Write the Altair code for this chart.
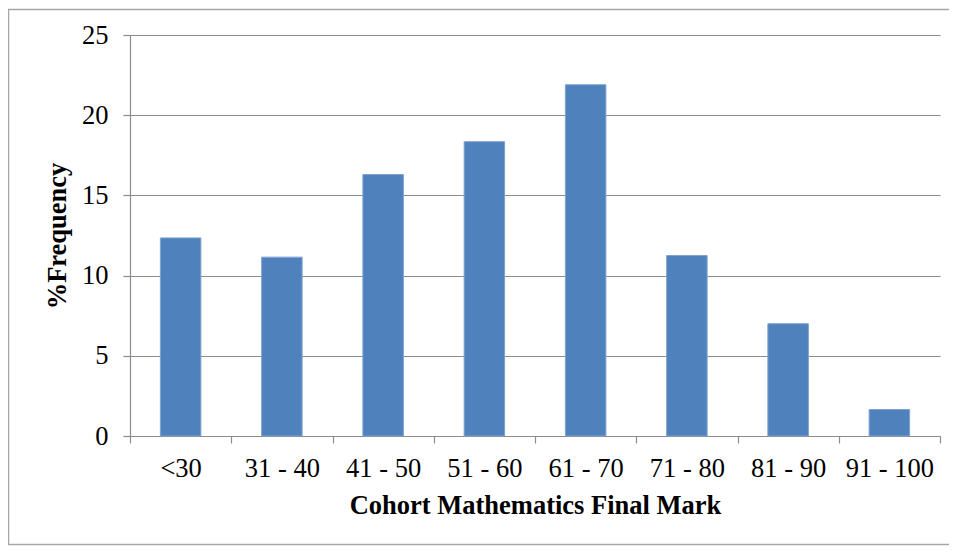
import altair as alt
import pandas as pd

categories = ["<30", "31 - 40", "41 - 50", "51 - 60", "61 - 70", "71 - 80", "81 - 90", "91 - 100"]
values = [12.35, 11.15, 16.3, 18.35, 21.9, 11.25, 7.0, 1.65]
y_ticks = [0, 5, 10, 15, 20, 25]

df = pd.DataFrame({"mark": categories, "freq": values})

FONT = "'Times New Roman', 'Liberation Serif', 'DejaVu Serif', serif"
GRID = "#8c8c8c"
W, H = 810, 401

bars = alt.Chart(df).mark_bar(
    width=alt.RelativeBandSize(0.4),
    color="#4f81bd",
    stroke="#7ea3d1",
    strokeWidth=1,
).encode(
    x=alt.X(
        "mark:N",
        sort=categories,
        scale=alt.Scale(paddingInner=0, paddingOuter=0),
        axis=alt.Axis(
            title="Cohort Mathematics Final Mark",
            labelAngle=0,
            tickBand="extent",
            tickSize=7,
            labelPadding=12,
            titlePadding=11,
            domainColor=GRID,
            tickColor=GRID,
            grid=False,
        ),
    ),
    y=alt.Y(
        "freq:Q",
        scale=alt.Scale(domain=[0, 25], nice=False),
        axis=alt.Axis(
            title="%Frequency",
            values=y_ticks,
            tickSize=7,
            labelPadding=15,
            titlePadding=10,
            grid=True,
            gridColor=GRID,
            domainColor=GRID,
            tickColor=GRID,
        ),
    ),
)

border = alt.Chart(pd.DataFrame({"a": [0]})).mark_rect(
    fill=None, stroke="#a6a6a6", strokeWidth=1.5, clip=False
).encode(
    x=alt.value(-121.5),
    x2=alt.value(830),
    y=alt.value(-25.5),
    y2=alt.value(509.5),
)

chart = alt.layer(bars, border).properties(
    width=W,
    height=H,
    autosize=alt.AutoSizeParams(type="none"),
    padding={"left": 122, "top": 27, "right": 9, "bottom": 110},
).configure_view(
    stroke=None
).configure_axis(
    labelFont=FONT,
    titleFont=FONT,
    labelFontSize=26.5,
    titleFontSize=26.5,
    labelColor="black",
    titleColor="black",
    titleFontWeight="bold",
    gridWidth=1.2,
    domainWidth=1.2,
    tickWidth=1.2,
)

chart.save("out.html", embed_options={"renderer": "svg", "actions": False})
